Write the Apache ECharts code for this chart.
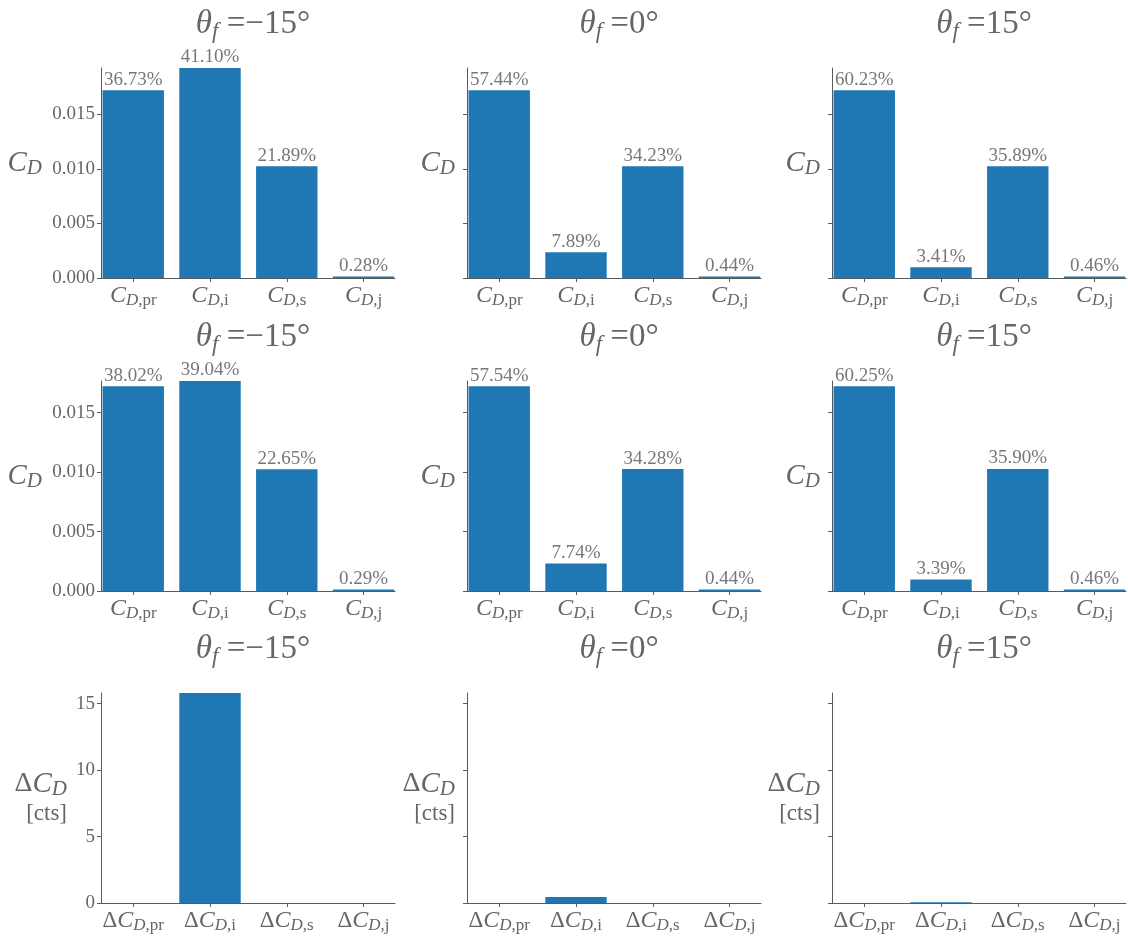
<!DOCTYPE html>
<html>
<head>
<meta charset="utf-8">
<script src="https://cdn.jsdelivr.net/npm/echarts@6/dist/echarts.min.js"></script>
<style>
  html, body { margin: 0; padding: 0; background: #ffffff; }
  #chart { width: 1128px; height: 940px; }
</style>
</head>
<body>
<div id="chart"></div>
<script>
// subscripts of the drag components
const parts = ["pr", "i", "s", "j"];
const angles = ["\u221215", "0", "15"];

// C_D, first case (top row)
const cdA_m15 = [0.01720, 0.01925, 0.01025, 0.000131];
const cdA_0 = [0.01720, 0.002363, 0.01025, 0.000131];
const cdA_p15 = [0.01720, 0.000974, 0.01025, 0.000131];
const pctA_m15 = ["36.73%", "41.10%", "21.89%", "0.28%"];
const pctA_0 = ["57.44%", "7.89%", "34.23%", "0.44%"];
const pctA_p15 = ["60.23%", "3.41%", "35.89%", "0.46%"];

// C_D, second case (middle row)
const cdB_m15 = [0.01723, 0.01767, 0.01025, 0.000131];
const cdB_0 = [0.01723, 0.002318, 0.01026, 0.000131];
const cdB_p15 = [0.01723, 0.000969, 0.01027, 0.000132];
const pctB_m15 = ["38.02%", "39.04%", "22.65%", "0.29%"];
const pctB_0 = ["57.54%", "7.74%", "34.28%", "0.44%"];
const pctB_p15 = ["60.25%", "3.39%", "35.90%", "0.46%"];

// difference in drag counts (bottom row)
const dcd_m15 = [0, 15.8, 0, 0];
const dcd_0 = [0, 0.45, 0, 0];
const dcd_p15 = [0, 0.05, 0, 0];

const cdTicks = [0, 0.005, 0.010, 0.015];
const ctsTicks = [0, 5, 10, 15];

const rows = [
  { data: [cdA_m15, cdA_0, cdA_p15], pct: [pctA_m15, pctA_0, pctA_p15], ticks: cdTicks, delta: false },
  { data: [cdB_m15, cdB_0, cdB_p15], pct: [pctB_m15, pctB_0, pctB_p15], ticks: cdTicks, delta: false },
  { data: [dcd_m15, dcd_0, dcd_p15], pct: null, ticks: ctsTicks, delta: true },
];

const serif = "Liberation Serif";
const textCol = "#666666";
const axisCol = "#5a5a5a";
const barCol = "#1f77b4";

const colLeft = [101, 467, 832];
const rowTop = [68, 381, 693];
const gridW = 294;
const gridH = 210;
const xMin = -0.42;
const xMax = 3.41;
const barW = 0.8 * gridW / (xMax - xMin);

function catRich() {
  return {
    c: { fontFamily: serif, fontStyle: "italic", fontSize: 24, color: textCol },
    u: { fontFamily: serif, fontSize: 23, color: textCol },
    d: { fontFamily: serif, fontStyle: "italic", fontSize: 17, color: textCol, padding: [10, 0, 0, 0] },
    r: { fontFamily: serif, fontSize: 17, color: textCol, padding: [10, 0, 0, 0] },
  };
}

const grid = [], xAxis = [], yAxis = [], series = [], title = [];

rows.forEach((row, r) => {
  const rowMax = Math.max(...row.data[0], ...row.data[1], ...row.data[2]);
  row.data.forEach((vals, c) => {
    const k = r * 3 + c;
    grid.push({ left: colLeft[c], top: rowTop[r], width: gridW, height: gridH, outerBoundsMode: "none" });

    title.push({
      text: "{th|\u03b8}{f|f}{n| =" + angles[c] + "\u00b0}",
      left: colLeft[c] + gridW / 2,
      top: rowTop[r] - 68,
      textAlign: "center",
      textStyle: {
        fontWeight: "normal",
        rich: {
          th: { fontFamily: serif, fontStyle: "italic", fontWeight: "normal", fontSize: 33, color: textCol },
          f: { fontFamily: serif, fontStyle: "italic", fontWeight: "normal", fontSize: 23, color: textCol, padding: [15, 0, 0, 0] },
          n: { fontFamily: serif, fontWeight: "normal", fontSize: 33, color: textCol },
        },
      },
    });

    xAxis.push({
      type: "value",
      gridIndex: k,
      min: xMin,
      max: xMax,
      splitLine: { show: false },
      axisLine: { show: true, onZero: false, lineStyle: { color: axisCol, width: 1 } },
      axisTick: { show: true, length: 4, customValues: [0, 1, 2, 3], lineStyle: { color: axisCol } },
      axisLabel: {
        show: true,
        customValues: [0, 1, 2, 3],
        margin: 4,
        formatter: (v) => (row.delta ? "{u|\u0394}" : "") + "{c|C}{d|D}{r|," + parts[Math.round(v)] + "}",
        rich: catRich(),
      },
    });

    const nameText = row.delta ? "{u|\u0394}{c|C}{d|D}\n{b|[cts]}" : "{c|C}{d|D}";
    yAxis.push({
      type: "value",
      gridIndex: k,
      min: 0,
      max: rowMax,
      splitLine: { show: false },
      axisLine: { show: true, onZero: false, lineStyle: { color: axisCol, width: 1 } },
      axisTick: { show: true, length: 4, customValues: row.ticks, lineStyle: { color: axisCol } },
      axisLabel: {
        show: c === 0,
        customValues: row.ticks,
        margin: 6,
        color: textCol,
        fontFamily: serif,
        fontSize: 19,
        formatter: (v) => (row.delta ? String(Math.round(v)) : v.toFixed(3)),
      },
      name: nameText,
      nameLocation: "middle",
      nameRotate: 0,
      nameGap: c === 0 ? (row.delta ? 34 : 59) : 12,
      nameTextStyle: {
        align: "right",
        verticalAlign: "middle",
        padding: row.delta ? [0, 0, 0, 0] : [0, 0, 20, 0],
        rich: {
          u: { fontFamily: serif, fontSize: 28, color: textCol },
          c: { fontFamily: serif, fontStyle: "italic", fontSize: 29, color: textCol },
          d: { fontFamily: serif, fontStyle: "italic", fontSize: 21, color: textCol, padding: [11, 0, 0, 0] },
          b: { fontFamily: serif, fontSize: 23, color: textCol, lineHeight: 28 },
        },
      },
    });

    series.push({
      type: "bar",
      xAxisIndex: k,
      yAxisIndex: k,
      data: vals.map((v, i) => [i, v]),
      barWidth: barW,
      itemStyle: { color: barCol },
      label: {
        show: !row.delta,
        position: "top",
        distance: 1,
        color: "#777777",
        fontFamily: serif,
        fontSize: 19,
        formatter: (p) => (row.pct ? row.pct[c][p.dataIndex] : ""),
      },
    });
  });
});

const chart = echarts.init(document.getElementById("chart"), null, { renderer: "canvas" });
chart.setOption({
  animation: false,
  backgroundColor: "#ffffff",
  title: title,
  grid: grid,
  xAxis: xAxis,
  yAxis: yAxis,
  series: series,
});
</script>
</body>
</html>
